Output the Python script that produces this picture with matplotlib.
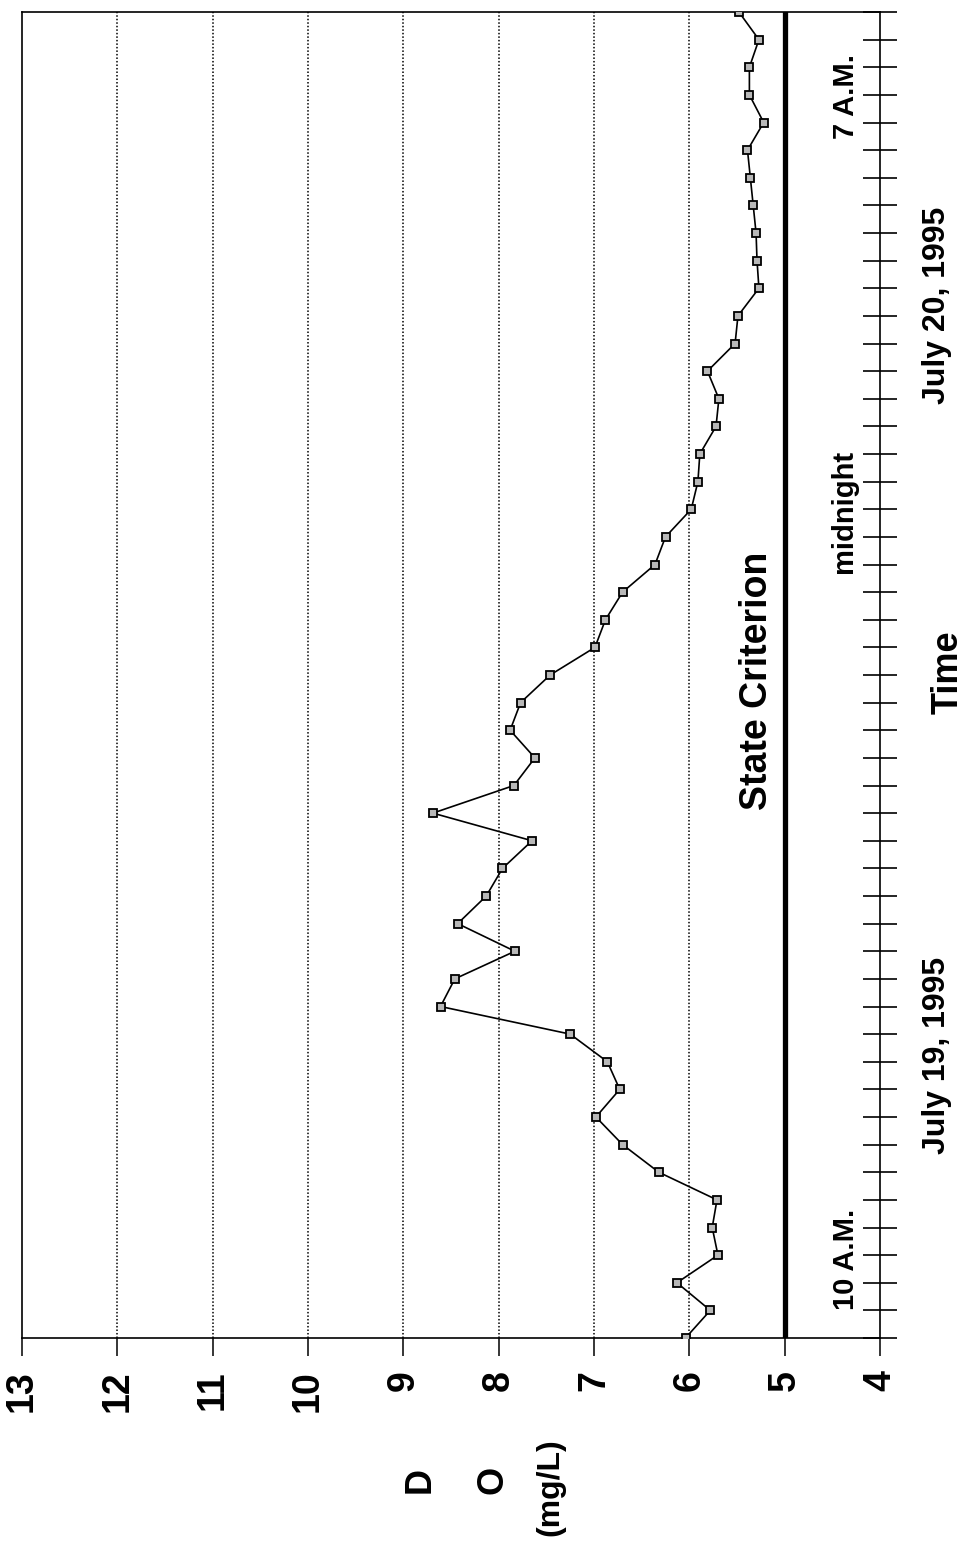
import matplotlib
matplotlib.use("Agg")
import matplotlib.pyplot as plt

plt.rcParams['font.family'] = ['Liberation Sans', 'DejaVu Sans']
plt.rcParams['font.weight'] = 'bold'

# sampling times, hours from midnight July 19 (half-hour readings)
hours = [9.5, 10.0, 10.5, 11.0, 11.5, 12.0, 12.5, 13.0, 13.5, 14.0,
         14.5, 15.0, 15.5, 16.0, 16.5, 17.0, 17.5, 18.0, 18.5, 19.0,
         19.5, 20.0, 20.5, 21.0, 21.5, 22.0, 22.5, 23.0, 23.5, 24.0,
         24.5, 25.0, 25.5, 26.0, 26.5, 27.0, 27.5, 28.0, 28.5, 29.0,
         29.5, 30.0, 30.5, 31.0, 31.5, 32.0, 32.5, 33.0, 33.5]
do_mgl = [6.04, 5.78, 6.13, 5.70, 5.76, 5.71, 6.32, 6.70, 6.98, 6.73,
          6.86, 7.25, 8.61, 8.46, 7.83, 8.43, 8.13, 7.96, 7.65, 8.69,
          7.84, 7.62, 7.88, 7.77, 7.46, 6.99, 6.88, 6.70, 6.36, 6.25,
          5.98, 5.91, 5.89, 5.72, 5.69, 5.81, 5.52, 5.49, 5.27, 5.29,
          5.30, 5.33, 5.36, 5.39, 5.22, 5.37, 5.37, 5.27, 5.48]
do_ticks = [4, 5, 6, 7, 8, 9, 10, 11, 12, 13]
grid_vals = [6, 7, 8, 9, 10, 11, 12]
criterion = 5

W, H = 967, 1553
fig = plt.figure(figsize=(W / 100, H / 100), dpi=100)
ax = fig.add_axes([22 / W, 1 - 1338 / H, 858 / W, 1326 / H])

for g in grid_vals:
    ax.axvline(g, color='black', lw=1.1, ls=(0, (1, 1.3)), zorder=1)
ax.axvline(criterion, color='black', lw=3.8, zorder=2)

ax.plot(do_mgl, hours, color='black', lw=1.2, marker='s', ms=5.5,
        mfc='#b8b8b8', mec='black', mew=1.3, zorder=3)

ax.set_xlim(13, 4)
ax.set_ylim(hours[0], hours[-1])
ax.set_xticks(do_ticks)
ax.set_xticklabels([str(v) for v in do_ticks], rotation=90,
                   fontsize=27, fontweight='bold')
ax.tick_params(axis='x', direction='out', length=13, width=1.1, pad=10)

ax.yaxis.tick_right()
ax.set_yticks(hours)
ax.set_yticklabels([])
ax.tick_params(axis='y', direction='inout', length=25, width=1.2,
               right=True, left=False, labelright=False)

for s in ax.spines.values():
    s.set_linewidth(1.2)

# labels inside the plot
ax.text(4.36, 10.0, '10 A.M.', rotation=90, fontsize=21, fontweight='bold',
        ha='center', va='bottom')
ax.text(4.38, 23.35, 'midnight', rotation=90, fontsize=21, fontweight='bold',
        ha='center', va='bottom')
ax.text(4.36, 31.2, '7 A.M.', rotation=90, fontsize=21, fontweight='bold',
        ha='center', va='bottom')
ax.text(5.29, 21.4, 'State Criterion', rotation=90, fontsize=27,
        fontweight='bold', ha='center', va='center')

# outside labels
fig.text(937 / W, 1 - 1055 / H, 'July 19, 1995', rotation=90, fontsize=23,
         fontweight='bold', ha='center', va='center')
fig.text(937 / W, 1 - 305 / H, 'July 20, 1995', rotation=90, fontsize=23,
         fontweight='bold', ha='center', va='center')
fig.text(948 / W, 1 - 672 / H, 'Time', rotation=90, fontsize=26,
         fontweight='bold', ha='center', va='center')
fig.text(420 / W, 1 - 1480 / H, 'D', rotation=90, fontsize=26,
         fontweight='bold', ha='center', va='center')
fig.text(493 / W, 1 - 1480 / H, 'O', rotation=90, fontsize=26,
         fontweight='bold', ha='center', va='center')
fig.text(550 / W, 1 - 1487 / H, '(mg/L)', rotation=90, fontsize=23,
         fontweight='bold', ha='center', va='center')

fig.savefig('out.png', dpi=100)
